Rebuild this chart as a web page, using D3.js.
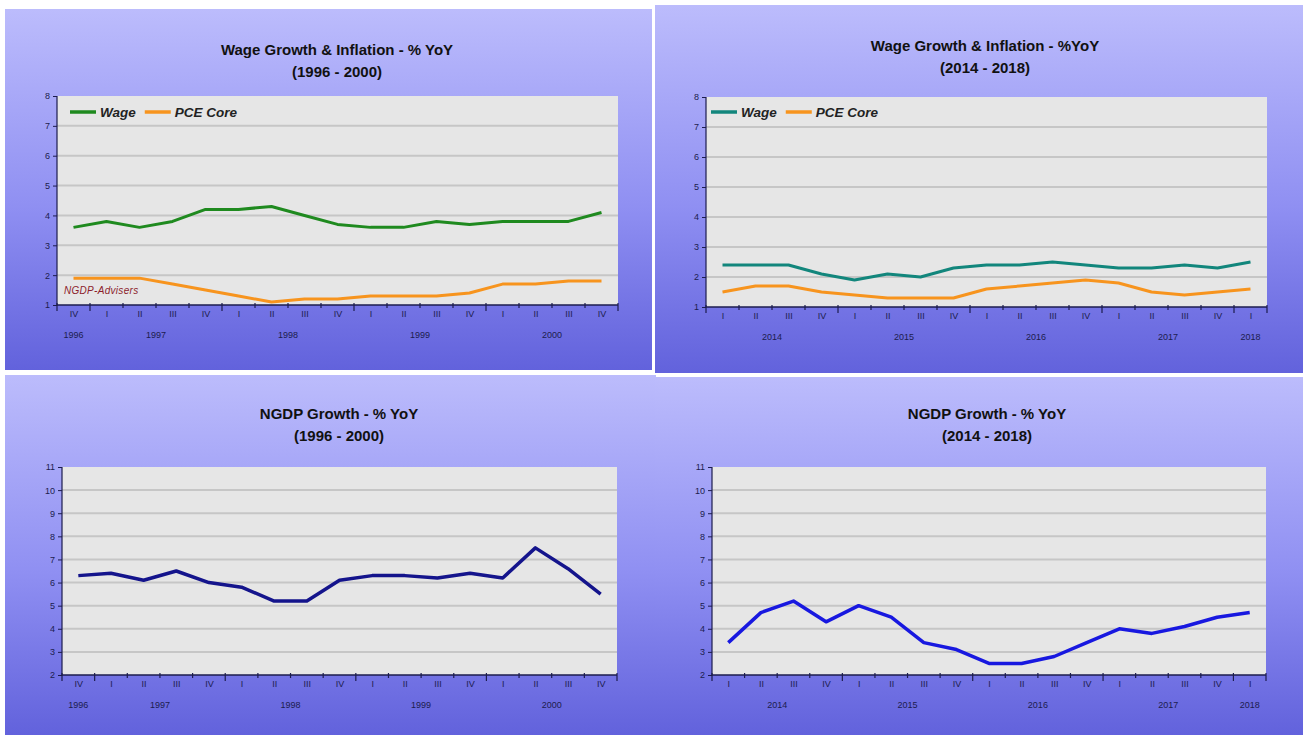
<!DOCTYPE html>
<html>
<head>
<meta charset="utf-8">
<script src="https://cdn.jsdelivr.net/npm/d3@7"></script>
<style>
  html, body { margin: 0; padding: 0; background: #ffffff; }
  svg { display: block; font-family: "Liberation Sans", Arial, sans-serif; }
</style>
</head>
<body>
<svg id="chart" width="1303" height="735"></svg>
<script>
// ---------- DATA ----------
// 1996 Q4 - 2000 Q4
const quartersA = ["IV","I","II","III","IV","I","II","III","IV","I","II","III","IV","I","II","III","IV"];
const yearOfA   = ["1996","1997","1997","1997","1997","1998","1998","1998","1998","1999","1999","1999","1999","2000","2000","2000","2000"];
const wageA = [3.6, 3.8, 3.6, 3.8, 4.2, 4.2, 4.3, 4.0, 3.7, 3.6, 3.6, 3.8, 3.7, 3.8, 3.8, 3.8, 4.1];
const pceA  = [1.9, 1.9, 1.9, 1.7, 1.5, 1.3, 1.1, 1.2, 1.2, 1.3, 1.3, 1.3, 1.4, 1.7, 1.7, 1.8, 1.8];
const ngdpA = [6.3, 6.4, 6.1, 6.5, 6.0, 5.8, 5.2, 5.2, 6.1, 6.3, 6.3, 6.2, 6.4, 6.2, 7.5, 6.6, 5.5];

// 2014 Q1 - 2018 Q1
const quartersB = ["I","II","III","IV","I","II","III","IV","I","II","III","IV","I","II","III","IV","I"];
const yearOfB   = ["2014","2014","2014","2014","2015","2015","2015","2015","2016","2016","2016","2016","2017","2017","2017","2017","2018"];
const wageB = [2.4, 2.4, 2.4, 2.1, 1.9, 2.1, 2.0, 2.3, 2.4, 2.4, 2.5, 2.4, 2.3, 2.3, 2.4, 2.3, 2.5];
const pceB  = [1.5, 1.7, 1.7, 1.5, 1.4, 1.3, 1.3, 1.3, 1.6, 1.7, 1.8, 1.9, 1.8, 1.5, 1.4, 1.5, 1.6];
const ngdpB = [3.4, 4.7, 5.2, 4.3, 5.0, 4.5, 3.4, 3.1, 2.5, 2.5, 2.8, 3.4, 4.0, 3.8, 4.1, 4.5, 4.7];

const yTicksWage = [1, 2, 3, 4, 5, 6, 7, 8];
const yTicksNgdp = [2, 3, 4, 5, 6, 7, 8, 9, 10, 11];

const seriesNames = ["Wage", "PCE Core"];

// ---------- DRAW ----------
const svg = d3.select("#chart");
const defs = svg.append("defs");
const grad = defs.append("linearGradient").attr("id", "bg")
  .attr("x1", 0).attr("y1", 0).attr("x2", 0).attr("y2", 1);
grad.append("stop").attr("offset", "0%").attr("stop-color", "#bcbcfc");
grad.append("stop").attr("offset", "55%").attr("stop-color", "#8f8ff2");
grad.append("stop").attr("offset", "100%").attr("stop-color", "#6262dc");

const AXIS = "#1c1c4e";

function panel(cfg) {
  const g = svg.append("g");
  // background
  g.append("rect").attr("x", cfg.box[0]).attr("y", cfg.box[1])
    .attr("width", cfg.box[2] - cfg.box[0]).attr("height", cfg.box[3] - cfg.box[1])
    .attr("fill", "url(#bg)");

  // titles
  g.append("text").attr("x", cfg.tx).attr("y", cfg.ty).attr("text-anchor", "middle")
    .attr("font-size", 15).attr("font-weight", "bold").attr("fill", "#111")
    .text(cfg.title1);
  g.append("text").attr("x", cfg.tx).attr("y", cfg.ty + 22).attr("text-anchor", "middle")
    .attr("font-size", 15).attr("font-weight", "bold").attr("fill", "#111")
    .text(cfg.title2);

  const [L, R, T, B] = cfg.plot;
  const x = d3.scalePoint().domain(d3.range(cfg.quarters.length)).range([L, R]).padding(0.5);
  const step = x.step();
  const y = d3.scaleLinear().domain(cfg.yDomain).range([B, T]);

  // plot background
  g.append("rect").attr("x", L).attr("y", T).attr("width", R - L).attr("height", B - T)
    .attr("fill", "#e6e6e6");

  // gridlines
  g.append("g").selectAll("line").data(cfg.yTicks.slice(1, -1)).join("line")
    .attr("x1", L).attr("x2", R).attr("y1", d => y(d)).attr("y2", d => y(d))
    .attr("stroke", "#c6c6c6").attr("stroke-width", 2);

  // y axis
  const yAxis = d3.axisLeft(y).tickValues(cfg.yTicks).tickSize(4).tickPadding(3).tickFormat(d3.format("d"));
  const ya = g.append("g").attr("transform", `translate(${L},0)`).call(yAxis);
  ya.select(".domain").attr("stroke", AXIS).attr("stroke-width", 1.2).attr("d", `M0,${T}V${B}`);
  ya.selectAll(".tick line").attr("stroke", AXIS);
  ya.selectAll(".tick text").attr("fill", AXIS).attr("font-size", 9)
    .attr("font-family", "Liberation Sans, Arial, sans-serif");

  // x axis: quarter labels
  const xAxis = d3.axisBottom(x).tickSize(0).tickPadding(6).tickFormat(i => cfg.quarters[i]);
  const xa = g.append("g").attr("transform", `translate(0,${B})`).call(xAxis);
  xa.select(".domain").attr("stroke", AXIS).attr("stroke-width", 1.5).attr("d", `M${L},0H${R}`);
  xa.selectAll(".tick text").attr("fill", AXIS).attr("font-size", 9)
    .attr("font-family", "Liberation Sans, Arial, sans-serif");

  // boundary ticks
  const bounds = d3.range(cfg.quarters.length + 1);
  g.append("g").selectAll("line").data(bounds).join("line")
    .attr("x1", i => L + i * step).attr("x2", i => L + i * step)
    .attr("y1", B - 2)
    .attr("y2", i => {
      const isYear = i === 0 || i === cfg.quarters.length || cfg.yearOf[i] !== cfg.yearOf[i - 1];
      return B + (isYear ? 6 : 3);
    })
    .attr("stroke", AXIS).attr("stroke-width", 1.2);

  // year labels centered under their quarters
  const years = Array.from(d3.group(d3.range(cfg.quarters.length), i => cfg.yearOf[i]),
    ([yr, idx]) => ({ yr, cx: d3.mean(idx, i => x(i)) }));
  g.append("g").selectAll("text").data(years).join("text")
    .attr("x", d => d.cx).attr("y", B + 33).attr("text-anchor", "middle")
    .attr("font-size", 9).attr("fill", AXIS).text(d => d.yr);

  // lines
  const line = d3.line().x((d, i) => x(i)).y(d => y(d));
  cfg.series.forEach(s => {
    g.append("path").datum(s.values).attr("d", line)
      .attr("fill", "none").attr("stroke", s.color).attr("stroke-width", s.width)
      .attr("stroke-linejoin", "round").attr("stroke-linecap", "butt");
  });

  // legend
  if (cfg.legend) {
    let lx = cfg.legend[0];
    const ly = cfg.legend[1];
    cfg.series.forEach((s, k) => {
      g.append("line").attr("x1", lx).attr("x2", lx + 26).attr("y1", ly).attr("y2", ly)
        .attr("stroke", s.color).attr("stroke-width", 3.5);
      const t = g.append("text").attr("x", lx + 30).attr("y", ly + 5)
        .attr("font-size", 13.5).attr("font-weight", "bold").attr("font-style", "italic")
        .attr("fill", "#222").text(s.name);
      lx += 30 + t.node().getComputedTextLength() + 9;
    });
  }
  if (cfg.credit) {
    g.append("text").attr("x", L + 7).attr("y", B - 11)
      .attr("font-size", 10).attr("font-style", "italic").attr("fill", "#8c1c2c")
      .attr("letter-spacing", 0.3).text(cfg.credit);
  }
}

panel({
  box: [5, 9, 652, 370], tx: 337, ty: 55,
  title1: "Wage Growth & Inflation - % YoY", title2: "(1996 - 2000)",
  plot: [57, 618, 96, 305], yDomain: [1, 8], yTicks: yTicksWage,
  quarters: quartersA, yearOf: yearOfA,
  series: [
    { name: seriesNames[0], values: wageA, color: "#1f8a1f", width: 3 },
    { name: seriesNames[1], values: pceA, color: "#f7941e", width: 3 }
  ],
  legend: [70, 112], credit: "NGDP-Advisers"
});

panel({
  box: [655, 5, 1303, 373], tx: 985, ty: 51,
  title1: "Wage Growth & Inflation - %YoY", title2: "(2014 - 2018)",
  plot: [706, 1267, 97, 307], yDomain: [1, 8], yTicks: yTicksWage,
  quarters: quartersB, yearOf: yearOfB,
  series: [
    { name: seriesNames[0], values: wageB, color: "#12867c", width: 3 },
    { name: seriesNames[1], values: pceB, color: "#f7941e", width: 3 }
  ],
  legend: [711, 112]
});

panel({
  box: [5, 375, 656, 735], tx: 339, ty: 419,
  title1: "NGDP Growth - % YoY", title2: "(1996 - 2000)",
  plot: [62, 617, 467, 675], yDomain: [2, 11], yTicks: yTicksNgdp,
  quarters: quartersA, yearOf: yearOfA,
  series: [
    { name: "NGDP", values: ngdpA, color: "#14148c", width: 3.5 }
  ]
});

panel({
  box: [655, 377, 1303, 735], tx: 987, ty: 419,
  title1: "NGDP Growth - % YoY", title2: "(2014 - 2018)",
  plot: [712, 1266, 467, 675], yDomain: [2, 11], yTicks: yTicksNgdp,
  quarters: quartersB, yearOf: yearOfB,
  series: [
    { name: "NGDP", values: ngdpB, color: "#1818e0", width: 3.5 }
  ]
});
</script>
</body>
</html>
